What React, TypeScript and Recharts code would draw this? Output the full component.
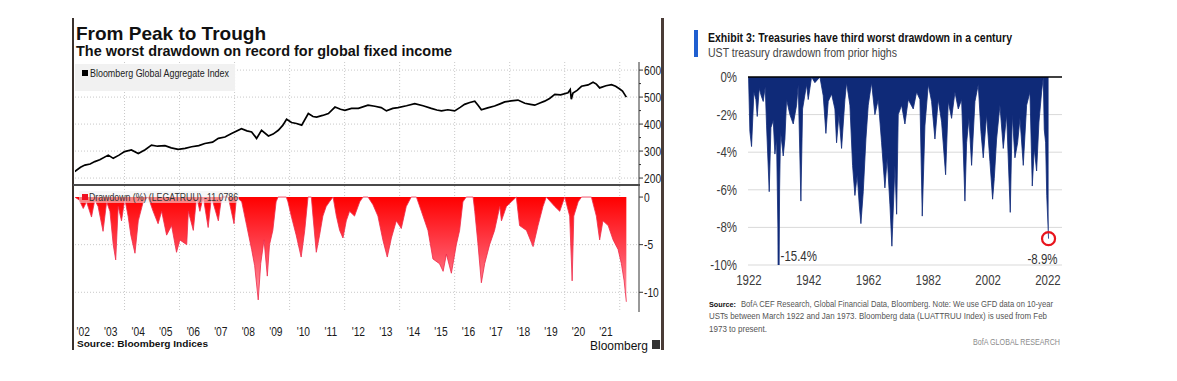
import React from 'react';
import { LineChart, Line, AreaChart, Area, XAxis, YAxis, CartesianGrid, ReferenceLine, ReferenceDot } from 'recharts';

const SANS = "'Liberation Sans', Arial, sans-serif";
const NARROW_SCALE = 0.82;

// ---- Left panel: Bloomberg Global Aggregate Index ----
const indexYears = [
  2002.19, 2002.4, 2002.56, 2002.75, 2002.92, 2003.1, 2003.41, 2003.59, 2003.8, 2004.0,
  2004.25, 2004.5, 2004.75, 2004.98, 2005.2, 2005.47, 2005.7, 2005.95, 2006.2, 2006.44,
  2006.7, 2006.92, 2007.2, 2007.41, 2007.65, 2007.89, 2008.25, 2008.45, 2008.62, 2008.8,
  2008.98, 2009.23, 2009.4, 2009.59, 2009.75, 2009.89, 2010.07, 2010.25, 2010.44, 2010.68,
  2010.85, 2010.98, 2011.2, 2011.41, 2011.65, 2011.85, 2012.01, 2012.25, 2012.5, 2012.85,
  2013.1, 2013.33, 2013.52, 2013.75, 2013.94, 2014.25, 2014.55, 2014.85, 2015.15, 2015.35,
  2015.52, 2015.75, 2016.0, 2016.2, 2016.36, 2016.55, 2016.73, 2016.85, 2016.97, 2017.2,
  2017.45, 2017.65, 2017.82, 2018.05, 2018.3, 2018.55, 2018.75, 2018.91, 2019.1, 2019.27,
  2019.45, 2019.64, 2019.85, 2020.12, 2020.2, 2020.24, 2020.3, 2020.45, 2020.61, 2020.85,
  2021.03, 2021.15, 2021.27, 2021.5, 2021.7, 2021.85, 2022.0, 2022.1, 2022.24,
];
const indexValues = [
  224, 240, 248, 252, 261, 268, 285, 273, 285, 298,
  304, 291, 305, 322, 318, 320, 312, 306, 310, 316,
  320, 328, 333, 347, 352, 365, 383, 375, 371, 347,
  377, 356, 363, 377, 395, 418, 406, 402, 396, 439,
  428, 426, 432, 439, 463, 455, 451, 458, 458, 470,
  466, 461, 449, 458, 461, 468, 476, 468, 458, 452,
  449, 453, 449, 462, 473, 480, 485, 470, 453, 460,
  467, 475, 482, 486, 489, 477, 473, 470, 478, 485,
  495, 510, 508, 516, 528, 492, 515, 525, 540, 545,
  555, 548, 534, 542, 546, 540, 530, 522, 500,
];

// ---- Left panel: Drawdown (%) (LEGATRUU) ----
const drawdownYears = [
  2002.19, 2002.35, 2002.5, 2002.62, 2002.8, 2002.92, 2003.04, 2003.22, 2003.35, 2003.47,
  2003.59, 2003.68, 2003.77, 2003.89, 2004.01, 2004.13, 2004.23, 2004.38, 2004.5, 2004.68,
  2004.86, 2005.04, 2005.22, 2005.35, 2005.53, 2005.71, 2005.89, 2006.01, 2006.26, 2006.32,
  2006.5, 2006.62, 2006.74, 2006.86, 2007.04, 2007.16, 2007.41, 2007.53, 2007.77, 2007.98,
  2008.07, 2008.26, 2008.44, 2008.62, 2008.73, 2008.86, 2008.95, 2009.07, 2009.19, 2009.27,
  2009.39, 2009.51, 2009.58, 2009.88, 2009.94, 2010.06, 2010.24, 2010.42, 2010.55, 2010.67,
  2010.79, 2010.85, 2010.97, 2011.09, 2011.21, 2011.33, 2011.45, 2011.58, 2011.7, 2011.82,
  2011.94, 2012.06, 2012.18, 2012.36, 2012.55, 2012.67, 2012.85, 2013.03, 2013.21, 2013.39,
  2013.55, 2013.7, 2013.88, 2014.06, 2014.24, 2014.42, 2014.61, 2014.79, 2015.03, 2015.21,
  2015.45, 2015.58, 2015.7, 2015.88, 2016.06, 2016.18, 2016.3, 2016.42, 2016.67, 2016.73,
  2016.85, 2016.97, 2017.09, 2017.27, 2017.45, 2017.64, 2017.7, 2017.88, 2018.06, 2018.24,
  2018.36, 2018.61, 2018.85, 2019.03, 2019.21, 2019.33, 2019.64, 2019.82, 2020.0, 2020.18,
  2020.27, 2020.33, 2020.49, 2020.61, 2020.97, 2021.15, 2021.27, 2021.39, 2021.58, 2021.76,
  2021.94, 2022.06, 2022.16, 2022.24,
];
const drawdownValues = [
  0, -0.3, -1.2, -0.5, -2.1, -0.3, -1.0, -3.6, -0.5, -1.5,
  -5.0, -6.6, -1.0, -2.5, -0.2, -2.0, -4.0, -5.9, -2.5, -0.5,
  0, -1.5, -2.8, -1.5, -4.0, -3.0, -5.8, -4.5, -5.0, -1.5,
  -3.5, 0, -1.5, 0, -3.2, 0, -2.5, 0, 0, -2.8,
  0, -0.5, -3.0, -5.5, -7.2, -10.8, -7.0, -4.5, -8.3, -5.0,
  -3.5, -0.5, 0, 0, -0.5, -2.0, -4.0, -6.3, -3.5, 0,
  0, -2.0, -5.8, -4.0, -2.0, -1.0, -0.5, 0, -2.0, -3.5,
  -4.3, -2.5, -1.5, -2.0, -0.5, 0, 0, -0.8, -2.0, -4.5,
  -6.3, -4.3, -2.5, -3.3, -1.0, 0, 0, -1.5, -3.5, -6.5,
  -7.0, -7.8, -6.0, -8.0, -5.0, -3.5, -0.5, 0, 0, -1.5,
  -5.0, -9.0, -7.0, -5.0, -3.5, -1.0, -2.5, -1.0, -0.5, 0,
  -3.0, -3.5, -5.2, -3.0, -1.0, 0, -1.0, -1.5, 0, -2.0,
  -8.8, -2.0, -0.5, 0, 0, -2.0, -4.5, -2.5, -3.0, -4.5,
  -5.5, -7.0, -8.8, -11.0,
];

const yearLabelTicks = [
  2002.5, 2003.5, 2004.5, 2005.5, 2006.5, 2007.5, 2008.5, 2009.5, 2010.5, 2011.5,
  2012.5, 2013.5, 2014.5, 2015.5, 2016.5, 2017.5, 2018.5, 2019.5, 2020.5, 2021.5,
];
const yearLabels = [
  "'02", "'03", "'04", "'05", "'06", "'07", "'08", "'09", "'10", "'11",
  "'12", "'13", "'14", "'15", "'16", "'17", "'18", "'19", "'20", "'21",
];
const gridYears = [2004, 2006, 2008, 2010, 2012, 2014, 2016, 2018, 2020, 2022];
const indexGrid = [200, 300, 400, 500, 600];
const indexTicks = [200, 250, 300, 350, 400, 450, 500, 550, 600];
const drawdownTicks = [0, -5, -10];

// ---- Right panel: UST drawdown from prior highs (%) ----
const ustYears = [
  1921.89, 1922.33, 1922.89, 1923.67, 1924.34, 1924.79, 1925.46, 1926.12, 1926.79, 1927.46,
  1927.91, 1928.8, 1929.36, 1930.14, 1930.7, 1931.25, 1931.7, 1931.92, 1932.26, 1932.59,
  1933.48, 1934.04, 1934.6, 1935.71, 1936.83, 1937.94, 1938.5, 1939.39, 1939.95, 1941.29,
  1941.84, 1942.96, 1944.07, 1945.75, 1946.86, 1947.75, 1948.53, 1949.65, 1950.76, 1951.32,
  1952.1, 1952.99, 1954.11, 1954.66, 1955.78, 1956.67, 1957.45, 1958.23, 1958.9, 1959.46,
  1960.24, 1961.13, 1961.91, 1963.02, 1964.14, 1965.25, 1966.37, 1967.48, 1968.26, 1969.16,
  1969.82, 1970.83, 1971.4, 1971.94, 1973.06, 1974.17, 1975.29, 1976.96, 1978.08, 1979.19,
  1979.97, 1980.86, 1981.98, 1983.09, 1984.21, 1985.32, 1986.44, 1987.78, 1988.67, 1989.78,
  1990.9, 1992.01, 1993.13, 1994.24, 1994.8, 1995.58, 1996.47, 1997.59, 1998.7, 1999.59,
  2000.37, 2001.49, 2002.6, 2003.5, 2004.05, 2004.83, 2005.95, 2007.06, 2008.18, 2009.4,
  2010.07, 2010.96, 2011.86, 2012.64, 2013.75, 2014.87, 2015.98, 2016.76, 2017.43, 2018.21,
  2018.99, 2019.88, 2020.44, 2020.77, 2021.22, 2021.6, 2022.2,
];
const ustValues = [
  0, -2.9, -3.7, -0.8, -1.2, -2.1, -0.6, -1.0, -1.3, -0.5,
  -2.6, -6.1, -2.7, -2.3, -4.1, -3.3, -8.0, -15.4, -6.0, -2.9,
  -4.2, -3.3, -1.2, -2.0, -2.5, -1.5, -0.4, -6.6, -1.7, -0.4,
  -1.2, 0, -0.3, 0, -1.0, -3.0, -1.3, -0.9, -1.7, -3.5,
  -2.0, -3.8, -1.2, -0.3, -1.5, -4.7, -6.3, -5.2, -6.8, -7.8,
  -6.1, -3.3, -1.5, -0.3, -2.0, -1.2, -3.5, -5.9, -4.3, -6.8,
  -9.0, -4.7, -7.3, -2.0, -1.5, -2.5, -1.2, -1.7, -0.8, -1.2,
  -7.4, -2.6, -0.4, -1.3, -3.3, -1.2, -2.4, -5.2, -1.3, -2.2,
  -0.8, -1.7, -1.2, -6.6, -3.5, -2.2, -4.7, -1.3, -0.4, -2.9,
  -4.3, -2.0, -4.5, -6.5, -5.4, -3.3, -1.5, -3.8, -2.0, -7.2,
  -2.0, -4.3, -3.5, -2.2, -4.7, -1.5, -0.8, -5.8, -3.8, -5.0,
  -2.4, -0.8, 0, -2.8, -3.5, -6.3, -8.6,
];
const ustYTicks = [0, -2, -4, -6, -8, -10];
const ustXTicks = [1922, 1942, 1962, 1982, 2002, 2022];
const ustWorst = { year: 1931.92, value: -10, text: '-15.4%' };
const ustLatest = { year: 2022.2, value: -8.6, text: '-8.9%' };

const indexData = indexYears.map((y, i) => ({ year: y, value: indexValues[i] }));
const drawdownData = drawdownYears.map((y, i) => ({ year: y, value: drawdownValues[i] }));
const ustData = ustYears.map((y, i) => ({ year: y, value: ustValues[i] }));

// narrow tick text: Liberation Sans compressed horizontally (Arial Narrow look)
const makeTick = (size: number, fill: string, dy: string, fmt: (v: number) => string) => (props: any) => {
  const { x, y, payload, textAnchor } = props;
  return (
    <g transform={`translate(${x},${y})`}>
      <text transform={`scale(${NARROW_SCALE},1)`} textAnchor={textAnchor} dy={dy} fontFamily={SANS} fontSize={size} fill={fill}>
        {fmt(payload.value)}
      </text>
    </g>
  );
};
// right-hand Bloomberg axis: major ticks with label, minor ticks without
const bbgRightTick = (major: (v: number) => boolean) => (props: any) => {
  const { x, y, payload } = props;
  const isMajor = major(payload.value);
  return (
    <g transform={`translate(${x},${y})`}>
      <line x1={-5} x2={isMajor ? -1 : -3} y1={0} y2={0} stroke="#333" strokeWidth={1} />
      {isMajor && (
        <text transform={`scale(${NARROW_SCALE},1)`} textAnchor="start" dy="0.36em" fontFamily={SANS} fontSize={12.5} fill="#1a1a1a">
          {String(payload.value)}
        </text>
      )}
    </g>
  );
};
const yearFmt = (v: number) => yearLabels[yearLabelTicks.indexOf(v)] ?? '';
const plain = (v: number) => String(v);
const pctFmt = (v: number) => `${v}%`;

type FitProps = { x: number; base: number; w: number; size: number; weight?: number; color?: string; children: React.ReactNode };
function FitText({ x, base, w, size, weight = 400, color = '#111', children }: FitProps) {
  return (
    <svg style={{ position: 'absolute', left: x, top: base - size * 1.2, overflow: 'visible' }} width={w} height={size * 1.5}>
      <text x={0} y={size * 1.2} textLength={w} lengthAdjust="spacingAndGlyphs" fontFamily={SANS} fontSize={size} fontWeight={weight} fill={color}>
        {children}
      </text>
    </svg>
  );
}

const worstLabel = (props: any) => {
  const vb = props.viewBox;
  const cx = vb.x + vb.width / 2;
  const cy = vb.y + vb.height / 2;
  return (
    <g transform={`translate(${cx + 2},${cy - 9})`}>
      <text transform={`scale(${NARROW_SCALE},1)`} dy="0.36em" fontFamily={SANS} fontSize={14} fill="#333">{ustWorst.text}</text>
    </g>
  );
};
const latestLabel = (props: any) => {
  const vb = props.viewBox;
  const cx = vb.x + vb.width / 2;
  const cy = vb.y + vb.height / 2;
  return (
    <g transform={`translate(${cx - 6},${cy + 20})`}>
      <text transform={`scale(${NARROW_SCALE},1)`} dy="0.36em" textAnchor="middle" fontFamily={SANS} fontSize={14} fill="#333">{ustLatest.text}</text>
    </g>
  );
};

const abs = (l: number, t: number, extra: React.CSSProperties = {}): React.CSSProperties => ({
  position: 'absolute', left: l, top: t, ...extra,
});

export default function App() {
  return (
    <div style={{ position: 'absolute', left: 0, top: 0, width: 1177, height: 381, background: '#fff', overflow: 'hidden' }}>
      {/* ---------- LEFT PANEL ---------- */}
      <div style={abs(72, 18, { width: 2, height: 332, background: '#3a312d' })} />
      <div style={abs(661, 18, { width: 3, height: 332, background: '#4a3c37' })} />
      <FitText x={76} base={40} w={190} size={19} weight={700}>From Peak to Trough</FitText>
      <FitText x={76} base={56} w={376} size={14} weight={700}>The worst drawdown on record for global fixed income</FitText>

      <div style={abs(75, 62)}>
        <LineChart width={594} height={122} data={indexData} margin={{ top: 0, right: 0, bottom: 0, left: 0 }}>
          <CartesianGrid stroke="#c9c9c9" strokeDasharray="1 2" verticalValues={gridYears} horizontalValues={indexGrid} />
          <XAxis type="number" dataKey="year" domain={[2002.2, 2022.7]} hide allowDataOverflow />
          <YAxis orientation="right" type="number" domain={[178, 630]} ticks={indexTicks} width={30} interval={0}
            allowDataOverflow tickSize={4} tickMargin={1} tickLine={false}
            tick={bbgRightTick((v) => v % 100 === 0)} axisLine={{ stroke: '#333' }} />
          <Line type="linear" dataKey="value" stroke="#000" strokeWidth={1.7} dot={false} isAnimationActive={false} />
        </LineChart>
      </div>
      <div style={abs(75, 64, { width: 160, height: 27, background: '#f1f1f1' })} />
      <div style={abs(82, 70, { width: 6, height: 6, background: '#000' })} />
      <FitText x={90} base={77} w={139} size={11} color="#222">Bloomberg Global Aggregate Index</FitText>

      <div style={abs(73, 184, { width: 567, height: 2, background: '#4a4a4a' })} />

      <div style={abs(75, 186)}>
        <AreaChart width={594} height={156} data={drawdownData} margin={{ top: 0, right: 0, bottom: 0, left: 0 }}>
          <defs>
            <linearGradient id="ddFill" x1="0" y1="0" x2="0" y2="1">
              <stop offset="0%" stopColor="#ff0000" />
              <stop offset="55%" stopColor="#ff4d5c" />
              <stop offset="100%" stopColor="#ff9fae" />
            </linearGradient>
          </defs>
          <CartesianGrid stroke="#c9c9c9" strokeDasharray="1 2" verticalValues={gridYears} horizontalValues={[-5, -10]} />
          <XAxis type="number" dataKey="year" domain={[2002.2, 2022.7]} ticks={yearLabelTicks} interval={0}
            allowDataOverflow height={30} tickSize={0} tickMargin={15} axisLine={false} tickLine={false}
            tick={makeTick(12.5, '#1a1a1a', '0.71em', yearFmt)} />
          <YAxis orientation="right" type="number" domain={[-12.07, 1.16]} ticks={drawdownTicks} width={30} interval={0}
            allowDataOverflow tickSize={4} tickMargin={1} tick={makeTick(12.5, '#1a1a1a', '0.36em', plain)}
            axisLine={{ stroke: '#333' }} tickLine={{ stroke: '#333' }} />
          <Area type="linear" dataKey="value" stroke="#ee2a48" strokeWidth={0.8} fill="url(#ddFill)" fillOpacity={1} isAnimationActive={false} />
        </AreaChart>
      </div>
      <div style={abs(79, 191, { width: 160, height: 12, background: 'rgba(240,240,240,0.55)' })} />
      <div style={abs(82, 194, { width: 6, height: 6, background: '#f01020' })} />
      <FitText x={89} base={201} w={149} size={11} color="#333">Drawdown (%) (LEGATRUU) -11.0786</FitText>

      <FitText x={77} base={347.5} w={131} size={9.5} weight={700}>Source: Bloomberg Indices</FitText>
      <FitText x={590} base={349.5} w={58} size={12.5}>Bloomberg</FitText>
      <div style={abs(652, 340, { width: 8, height: 9, background: '#333' })} />

      {/* ---------- RIGHT PANEL ---------- */}
      <div style={abs(694, 30, { width: 4, height: 27, background: '#1f5fd0' })} />
      <FitText x={708} base={42} w={304} size={12} weight={700}>Exhibit 3: Treasuries have third worst drawdown in a century</FitText>
      <FitText x={708} base={57} w={189} size={12} color="#444">UST treasury drawdown from prior highs</FitText>

      <div style={abs(698, 65)}>
        <AreaChart width={364} height={230} data={ustData} margin={{ top: 12, right: 0, bottom: 0, left: 0 }}>
          <CartesianGrid stroke="#d9d9d9" vertical={false} horizontalValues={[-2, -4, -6, -8, -10]} />
          <XAxis type="number" dataKey="year" domain={[1921.7, 2026.7]} ticks={ustXTicks} interval={0}
            allowDataOverflow height={30} tickSize={0} tickMargin={10} axisLine={false} tickLine={false}
            tick={makeTick(14, '#3c3c3c', '0.71em', plain)} />
          <YAxis type="number" domain={[-10, 0]} ticks={ustYTicks} width={50} interval={0}
            allowDataOverflow tickSize={0} tickMargin={11} axisLine={false} tickLine={false}
            tick={makeTick(14, '#3c3c3c', '0.36em', pctFmt)} />
          <Area type="linear" dataKey="value" stroke="#0f2a78" strokeWidth={0.8} fill="#0f2a78" fillOpacity={1} isAnimationActive={false} />
          <ReferenceLine y={0} stroke="#000" strokeWidth={1.3} />
          <ReferenceDot x={ustWorst.year} y={ustWorst.value} r={0} fill="none" stroke="none" label={worstLabel} />
          <ReferenceDot x={ustLatest.year} y={ustLatest.value} r={6.5} fill="none" stroke="#e8141c" strokeWidth={2.2} label={latestLabel} />
        </AreaChart>
      </div>

      <FitText x={709} base={307} w={27} size={8} weight={700}>Source:</FitText>
      <FitText x={741} base={307} w={312} size={9} color="#555">BofA CEF Research, Global Financial Data, Bloomberg. Note: We use GFD data on 10-year</FitText>
      <FitText x={709} base={319} w={338} size={9} color="#555">USTs between March 1922 and Jan 1973. Bloomberg data (LUATTRUU Index) is used from Feb</FitText>
      <FitText x={709} base={332} w={58} size={9} color="#555">1973 to present.</FitText>
      <FitText x={973} base={345} w={87} size={9} color="#8c8c8c">BofA GLOBAL RESEARCH</FitText>
    </div>
  );
}
